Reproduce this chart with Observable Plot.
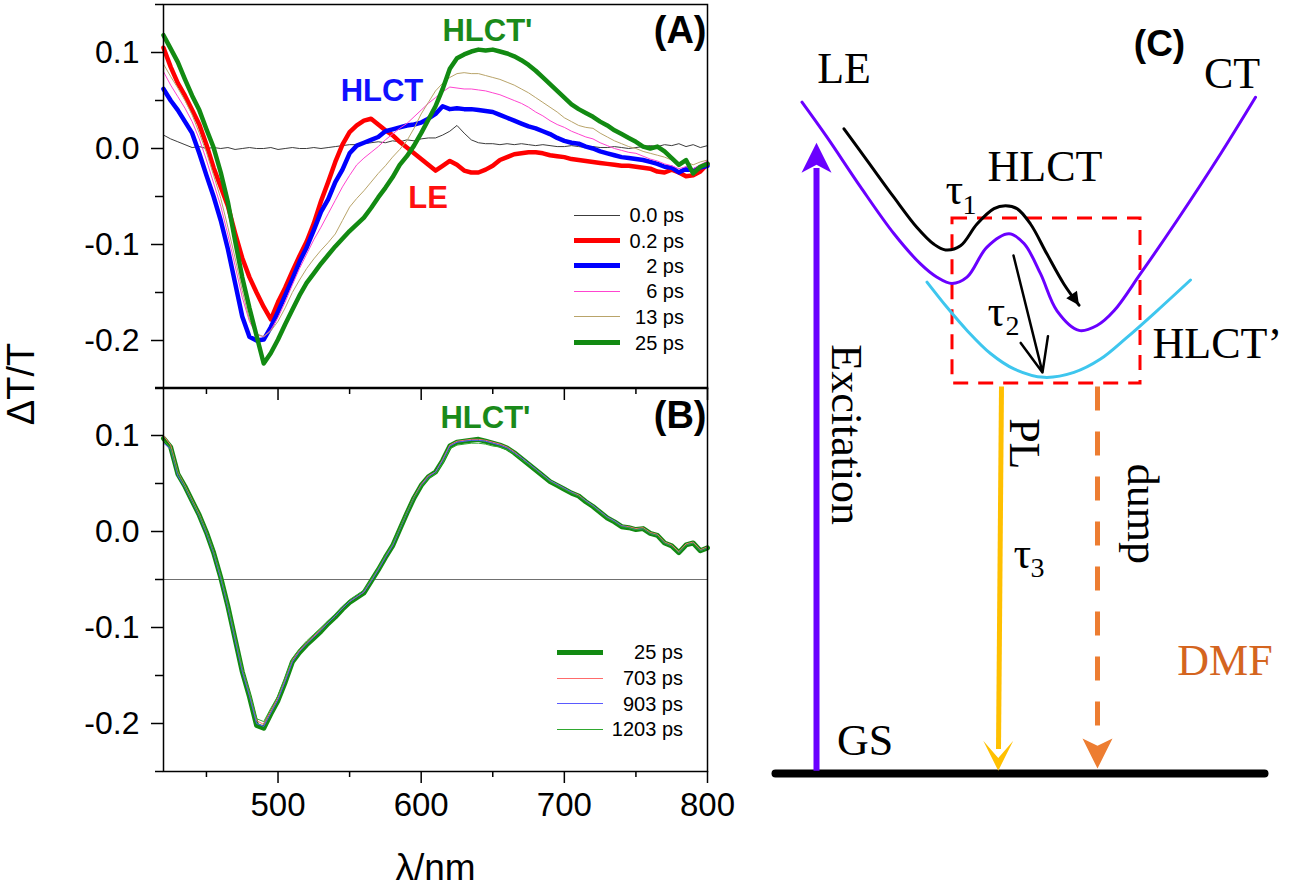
<!DOCTYPE html>
<html><head><meta charset="utf-8">
<script src="https://cdn.jsdelivr.net/npm/d3@7"></script>
<script src="https://cdn.jsdelivr.net/npm/@observablehq/plot@0.6"></script>
<style>
html,body{margin:0;padding:0;background:#fff;}
#root{position:relative;width:1305px;height:888px;overflow:hidden;background:#fff;font-family:"Liberation Sans",Arial,sans-serif;}
#root svg{position:absolute;}
.row{position:absolute;height:20px;}
.row .ln{position:absolute;left:0;width:46px;}
.row .tx{position:absolute;right:0;top:0;line-height:20px;font-size:20px;white-space:pre;color:#000;}
</style></head><body><div id="root"></div>
<script>
const SANS = '"Liberation Sans", Arial, Helvetica, sans-serif';
const SERIF = '"Liberation Serif", "Times New Roman", Times, serif';

// ---------- data: wavelength grid (nm) ----------
const wavelength = [420,425,430,435,440,445,450,455,460,465,
470,475,480,485,490,495,500,505,510,515,
520,525,530,535,540,545,550,555,560,565,
570,575,580,585,590,595,600,605,610,615,
620,625,630,635,640,645,650,655,660,665,
670,675,680,685,690,695,700,705,710,715,
720,725,730,735,740,745,750,755,760,765,
770,775,780,785,790,795,800];

// ---------- panel A spectra (ΔT/T) ----------
const A_0ps = [0.014,0.010,0.007,0.004,0.001,0.002,0.000,0.001,0.000,0.001,
-0.001,0.000,0.001,0.000,0.000,0.001,-0.001,0.000,0.001,0.000,
0.000,0.001,0.000,0.001,0.002,0.003,0.004,0.004,0.005,0.006,
0.007,0.006,0.008,0.007,0.009,0.008,0.010,0.011,0.011,0.014,
0.018,0.024,0.016,0.009,0.006,0.005,0.005,0.004,0.005,0.004,
0.005,0.004,0.003,0.004,0.003,0.002,0.002,0.003,0.002,0.001,
0.002,0.001,0.001,0.002,0.001,0.000,0.001,0.002,0.003,0.002,
0.004,0.003,0.005,0.002,0.004,0.001,0.003];
const A_02ps = [0.105,0.085,0.068,0.055,0.040,0.025,0.004,-0.020,-0.040,-0.060,
-0.088,-0.114,-0.134,-0.150,-0.165,-0.178,-0.160,-0.145,-0.128,-0.112,
-0.097,-0.078,-0.055,-0.035,-0.014,0.004,0.017,0.024,0.029,0.031,
0.025,0.019,0.014,0.007,0.001,-0.005,-0.011,-0.017,-0.023,-0.018,
-0.013,-0.017,-0.023,-0.025,-0.025,-0.022,-0.018,-0.012,-0.009,-0.006,
-0.005,-0.004,-0.004,-0.005,-0.007,-0.008,-0.009,-0.011,-0.012,-0.013,
-0.014,-0.015,-0.016,-0.017,-0.018,-0.018,-0.019,-0.020,-0.021,-0.024,
-0.025,-0.022,-0.025,-0.029,-0.028,-0.024,-0.016];
const A_2ps = [0.062,0.050,0.040,0.028,0.016,-0.005,-0.028,-0.050,-0.075,-0.105,
-0.140,-0.175,-0.196,-0.200,-0.199,-0.186,-0.170,-0.153,-0.136,-0.118,
-0.103,-0.085,-0.066,-0.053,-0.035,-0.022,-0.005,0.003,0.006,0.009,
0.012,0.018,0.020,0.022,0.024,0.025,0.027,0.031,0.036,0.044,
0.041,0.042,0.041,0.041,0.040,0.039,0.038,0.035,0.032,0.029,
0.026,0.023,0.021,0.018,0.015,0.011,0.008,0.006,0.005,0.002,
0.000,-0.003,-0.005,-0.007,-0.009,-0.010,-0.011,-0.012,-0.014,-0.016,
-0.019,-0.020,-0.025,-0.021,-0.023,-0.020,-0.018];
const A_6ps = [0.080,0.066,0.054,0.042,0.028,0.010,-0.012,-0.036,-0.060,-0.090,
-0.122,-0.155,-0.180,-0.194,-0.196,-0.189,-0.176,-0.160,-0.142,-0.125,
-0.110,-0.095,-0.082,-0.068,-0.054,-0.040,-0.028,-0.017,-0.010,-0.004,
0.002,0.009,0.015,0.021,0.026,0.033,0.040,0.047,0.053,0.059,
0.064,0.063,0.062,0.062,0.061,0.060,0.058,0.056,0.053,0.050,
0.047,0.043,0.038,0.034,0.029,0.025,0.022,0.018,0.015,0.012,
0.010,0.006,0.003,0.000,-0.002,-0.004,-0.005,-0.008,-0.011,-0.013,
-0.016,-0.018,-0.021,-0.019,-0.021,-0.017,-0.013];
const A_13ps = [0.088,0.075,0.063,0.050,0.035,0.016,-0.004,-0.028,-0.052,-0.082,
-0.114,-0.148,-0.178,-0.193,-0.196,-0.190,-0.180,-0.166,-0.150,-0.137,
-0.125,-0.115,-0.106,-0.098,-0.089,-0.075,-0.061,-0.052,-0.044,-0.035,
-0.026,-0.018,-0.009,-0.001,0.008,0.021,0.036,0.048,0.060,0.068,
0.074,0.078,0.079,0.078,0.078,0.076,0.074,0.072,0.069,0.066,
0.062,0.058,0.053,0.048,0.043,0.038,0.032,0.028,0.024,0.022,
0.021,0.016,0.012,0.008,0.005,0.002,0.000,-0.003,-0.005,-0.007,
-0.009,-0.012,-0.016,-0.014,-0.017,-0.014,-0.012];
const A_25ps = [0.118,0.104,0.090,0.072,0.055,0.040,0.020,0.001,-0.025,-0.056,
-0.096,-0.134,-0.166,-0.195,-0.224,-0.213,-0.199,-0.183,-0.168,-0.153,
-0.140,-0.130,-0.120,-0.111,-0.102,-0.094,-0.086,-0.079,-0.072,-0.062,
-0.051,-0.041,-0.030,-0.017,-0.008,0.003,0.016,0.030,0.044,0.062,
0.083,0.094,0.098,0.101,0.103,0.102,0.103,0.101,0.099,0.096,
0.092,0.087,0.081,0.074,0.067,0.060,0.053,0.046,0.041,0.037,
0.033,0.028,0.024,0.019,0.015,0.011,0.007,0.002,0.000,0.002,
-0.003,-0.010,-0.017,-0.012,-0.026,-0.019,-0.016];

// ---------- panel B spectra ----------
const B_25ps = [0.097,0.088,0.060,0.047,0.032,0.017,-0.001,-0.022,-0.048,-0.078,
-0.112,-0.146,-0.172,-0.202,-0.205,-0.190,-0.176,-0.157,-0.136,-0.126,
-0.118,-0.111,-0.104,-0.096,-0.089,-0.081,-0.074,-0.069,-0.064,-0.052,
-0.040,-0.027,-0.015,0.002,0.019,0.035,0.048,0.057,0.062,0.074,
0.089,0.093,0.094,0.095,0.096,0.094,0.092,0.090,0.087,0.082,
0.076,0.070,0.064,0.058,0.052,0.048,0.044,0.040,0.037,0.031,
0.026,0.020,0.014,0.010,0.005,0.004,0.002,0.003,-0.002,-0.004,
-0.012,-0.015,-0.022,-0.014,-0.012,-0.020,-0.017];
const B_703ps = [0.100,0.090,0.062,0.048,0.033,0.018,0.000,-0.021,-0.047,-0.077,
-0.110,-0.143,-0.168,-0.197,-0.201,-0.187,-0.173,-0.154,-0.134,-0.124,
-0.116,-0.109,-0.102,-0.095,-0.088,-0.080,-0.073,-0.068,-0.063,-0.051,
-0.039,-0.026,-0.014,0.003,0.020,0.036,0.049,0.058,0.062,0.075,
0.090,0.094,0.095,0.096,0.096,0.095,0.093,0.091,0.088,0.083,
0.077,0.071,0.065,0.059,0.053,0.049,0.045,0.041,0.038,0.032,
0.027,0.021,0.015,0.011,0.006,0.005,0.003,0.004,-0.001,-0.003,
-0.011,-0.014,-0.021,-0.013,-0.011,-0.019,-0.016];
const B_903ps = [0.092,0.086,0.058,0.046,0.031,0.016,-0.002,-0.023,-0.049,-0.079,
-0.113,-0.146,-0.171,-0.200,-0.203,-0.189,-0.175,-0.156,-0.136,-0.125,
-0.117,-0.110,-0.103,-0.095,-0.088,-0.080,-0.073,-0.068,-0.063,-0.052,
-0.040,-0.027,-0.015,0.002,0.019,0.035,0.048,0.057,0.062,0.074,
0.089,0.093,0.094,0.095,0.095,0.094,0.092,0.090,0.087,0.082,
0.077,0.071,0.065,0.059,0.053,0.049,0.045,0.041,0.037,0.032,
0.027,0.021,0.015,0.011,0.006,0.004,0.002,0.003,-0.002,-0.004,
-0.012,-0.015,-0.022,-0.014,-0.012,-0.020,-0.017];
const B_1203ps = [0.095,0.087,0.061,0.047,0.032,0.017,0.000,-0.021,-0.046,-0.076,
-0.109,-0.142,-0.167,-0.195,-0.198,-0.184,-0.171,-0.152,-0.132,-0.122,
-0.114,-0.107,-0.100,-0.093,-0.086,-0.078,-0.071,-0.066,-0.061,-0.050,
-0.038,-0.025,-0.013,0.003,0.020,0.035,0.047,0.055,0.060,0.071,
0.086,0.090,0.091,0.092,0.092,0.091,0.089,0.088,0.085,0.081,
0.075,0.070,0.064,0.058,0.052,0.048,0.044,0.040,0.037,0.031,
0.026,0.020,0.014,0.010,0.005,0.004,0.002,0.003,-0.002,-0.004,
-0.012,-0.015,-0.022,-0.014,-0.012,-0.020,-0.017];

// ---------- labels / ticks ----------
const legendA = ["0.0 ps","0.2 ps","2 ps","6 ps","13 ps","25 ps"];
const legendB = ["25 ps","703 ps","903 ps","1203 ps"];
const yMajor = [-0.2,-0.1,0.0,0.1];
const yMinor = [-0.25,-0.15,-0.05,0.05,0.15];
const xMajor = [500,600,700,800];
const xMinor = [450,550,650,750];
const annoA = ["HLCT'","HLCT","LE"];
const annoA_lam = [646.3, 572.6, 604.8];
const annoA_val = [0.1125, 0.050, -0.0615];
const annoB = ["HLCT'"];
const annoB_lam = [644.9];
const annoB_val = [0.1083];
const baselineB = [-0.05];

// ---------- panel C schematic (configuration coordinate q, energy e) ----------
const surfLE_CT_q = [8.3,13.3,20,26.7,32,35.3,38.3,41.3,45.3,49.7,52.7,56,59.3,63.7,67.3,70.7,76,83.3,92,99];
const surfLE_CT_e = [95.9,90.9,83.8,77.1,72.8,70.9,70.0,70.9,75.2,77.1,75.7,71.4,66.1,63.3,64.0,66.1,71.4,79.0,88.5,96.6];
const pathTau1_q = [16.7,21.3,26.7,31.3,34.7,37,40,43.3,46.7,49,51.3,54,57.3,60.7,63.7];
const pathTau1_e = [92.1,87.6,82.3,78.0,75.6,74.8,75.4,78.5,80.7,81.1,80.7,78.5,74.2,69.9,66.9];
const surfHLCTp_q = [33.3,37.3,41.3,46,50.7,56.7,62.7,68,73.3,79.3,86];
const surfHLCTp_e = [70.2,66.6,63.3,60.0,57.8,56.6,57.3,59.2,62.3,66.1,70.5];
const boxQ = [38.4, 76];
const boxE = [55.7, 79.3];
const groundQ = [3, 100.8];
const groundE = [0, 0];
const excitation = {q1: 11.2, e1: 0.4, q2: 11.2, e2: 86.5, tipQ: 11.2, tipE: 90.1};
const plArrow = {q1: 48.2, e1: 55.3, q2: 47.6, e2: 3.5, tipQ: 47.55, tipE: 0.4};
const dumpArrow = {q1: 67.4, e1: 55.3, q2: 67.4, e2: 6.7, tipQ: 67.4, tipE: 0.7};
const tau2Arrow = {q1: 50.6, e1: 74, q2: 56.4, e2: 57.3};
const serifLabels = ["LE","CT","HLCT","GS"];
const serifLabels_q = [16.7, 94.3, 56.9, 20.9];
const serifLabels_e = [98.6, 97.9, 84.7, 2.6];
const tauLabels = ["τ","τ","τ"];
const tau_q = [37, 45.4, 50.6];
const tau_e = [81.4, 64, 29.3];
const tauSubs = ["1","2","3"];
const tauSub_q = [40.4, 49, 54];
const tauSub_e = [80, 62.6, 28];
const rotLabels = ["Excitation","PL","dump"];
const rot_q = [17.2, 52.8, 76.3];
const rot_e = [48.4, 47.1, 37.1];

// ---------- helpers ----------
const rowsOf = vals => vals.map((v, i) => ({lam: wavelength[i], v}));
const ptsOf = (qs, es) => qs.map((q, i) => ({q, e: es[i]}));
const textRows = (labels, xs, ys) => labels.map((t, i) => ({t, x: xs[i], y: ys[i]}));

const styleA = [
  {vals: A_0ps, color: "#3c3c3c", w: 1},
  {vals: A_02ps, color: "#ff0000", w: 4.5},
  {vals: A_2ps, color: "#0000ff", w: 4.5},
  {vals: A_6ps, color: "#ff44d0", w: 1},
  {vals: A_13ps, color: "#b9a46a", w: 1},
  {vals: A_25ps, color: "#128a12", w: 4.5}
];
const styleB = [
  {vals: B_25ps, color: "#128a12", w: 5},
  {vals: B_703ps, color: "#ff6b6b", w: 1},
  {vals: B_903ps, color: "#5a5aff", w: 1},
  {vals: B_1203ps, color: "#2fa82f", w: 1}
];

const common = {
  width: 720, height: 888, marginLeft: 163, marginRight: 13,
  x: {domain: [420, 800], label: null},
  y: {domain: [-0.25, 0.15], label: null},
  style: {background: "transparent", overflow: "visible", fontFamily: SANS, color: "#000"}
};
const axisMarks = (labels) => [
  Plot.frame({stroke: "#000", strokeWidth: 1.5}),
  Plot.axisY(yMajor, {tickSize: 12, tickPadding: 12, fontSize: 32, tickFormat: d => d.toFixed(1), strokeWidth: 1.5, label: null}),
  Plot.axisY(yMinor, {tickSize: 8, fill: "none", strokeWidth: 1.5, label: null}),
  labels
    ? Plot.axisX(xMajor, {tickSize: 12, tickPadding: 9, fontSize: 33, tickFormat: d => String(d), strokeWidth: 1.5, label: null})
    : Plot.axisX(xMajor, {tickSize: 12, fill: "none", strokeWidth: 1.5, label: null}),
  Plot.axisX(xMinor, {tickSize: 6, fill: "none", strokeWidth: 1.5, label: null})
];
const boldText = (rows, color, size) => Plot.text(rows, {x: "x", y: "y", text: "t", fill: color, fontSize: size, fontWeight: "bold", fontFamily: SANS, textAnchor: "middle", lineAnchor: "bottom"});

const plotA = Plot.plot({
  ...common, marginTop: 4, marginBottom: 500,
  marks: [
    ...styleA.map(s => Plot.line(rowsOf(s.vals), {x: "lam", y: "v", stroke: s.color, strokeWidth: s.w})),
    ...axisMarks(false),
    boldText(textRows([annoA[0]], [annoA_lam[0]], [annoA_val[0]]), "#1a8a1a", 31),
    boldText(textRows([annoA[1]], [annoA_lam[1]], [annoA_val[1]]), "#1010ff", 31),
    boldText(textRows([annoA[2]], [annoA_lam[2]], [annoA_val[2]]), "#ff1010", 31),
    Plot.text(["(A)"], {frameAnchor: "top-right", dx: -1, dy: 38, textAnchor: "end", lineAnchor: "bottom", fontSize: 38, fontWeight: "bold", fontFamily: SANS, fill: "#000"})
  ]
});

const plotB = Plot.plot({
  ...common, marginTop: 387, marginBottom: 117,
  marks: [
    Plot.ruleY(baselineB, {stroke: "#707070", strokeWidth: 1.2}),
    ...styleB.map(s => Plot.line(rowsOf(s.vals), {x: "lam", y: "v", stroke: s.color, strokeWidth: s.w})),
    ...axisMarks(true),
    boldText(textRows(annoB, annoB_lam, annoB_val), "#1a8a1a", 31),
    Plot.text(["(B)"], {frameAnchor: "top-right", dx: -1, dy: 40, textAnchor: "end", lineAnchor: "bottom", fontSize: 38, fontWeight: "bold", fontFamily: SANS, fill: "#000"}),
    Plot.text(["λ/nm"], {frameAnchor: "bottom", dy: 108, lineAnchor: "bottom", fontSize: 37, fontFamily: SANS, fill: "#000"}),
    Plot.text(["ΔT/T"], {frameAnchor: "top-left", dx: -142, dy: -3.5, rotate: -90, textAnchor: "middle", lineAnchor: "middle", fontSize: 38, fontFamily: SANS, fill: "#000"})
  ]
});

// arrowhead symbols (tip at origin, pointing along angle; 0 = down)
function headSymbol(halfWidth, notch, angleDeg) {
  const a = angleDeg * Math.PI / 180, c = Math.cos(a), s = Math.sin(a);
  const rot = ([x, y]) => [x * c - y * s, x * s + y * c];
  return {draw(ctx, size) {
    const L = Math.sqrt(size / Math.PI);
    const p = [[0, 0], [-halfWidth * L, -L], [0, -notch * L], [halfWidth * L, -L]].map(rot);
    ctx.moveTo(p[0][0], p[0][1]);
    for (let i = 1; i < p.length; i++) ctx.lineTo(p[i][0], p[i][1]);
    ctx.closePath();
  }};
}
const head = (a, r, sym, color) => Plot.dot([{q: a.tipQ, e: a.tipE}], {x: "q", y: "e", r, symbol: sym, fill: color, stroke: "none"});

const PURPLE = "#6a00ff", CYAN = "#3ec6ee", YELLOW = "#ffc000", ORANGE = "#ed7d31";
const plotC = Plot.plot({
  width: 545, height: 888, margin: 0,
  x: {domain: [0, 109]}, y: {domain: [-16.43, 110.43]},
  axis: null,
  style: {background: "transparent", overflow: "visible"},
  marks: [
    Plot.line(ptsOf(groundQ, groundE), {x: "q", y: "e", stroke: "#000", strokeWidth: 8}),
    Plot.rect([{q1: boxQ[0], q2: boxQ[1], e1: boxE[0], e2: boxE[1]}], {x1: "q1", x2: "q2", y1: "e1", y2: "e2", fill: "none", stroke: "#ff0000", strokeWidth: 3, strokeDasharray: "15,10"}),
    Plot.line(ptsOf(surfLE_CT_q, surfLE_CT_e), {x: "q", y: "e", curve: "catmull-rom", stroke: PURPLE, strokeWidth: 3}),
    Plot.line(ptsOf(surfHLCTp_q, surfHLCTp_e), {x: "q", y: "e", curve: "catmull-rom", stroke: CYAN, strokeWidth: 3}),
    Plot.line(ptsOf(pathTau1_q, pathTau1_e), {x: "q", y: "e", curve: "catmull-rom", stroke: "#000", strokeWidth: 3}),
    head({tipQ: pathTau1_q[pathTau1_q.length - 1], tipE: pathTau1_e[pathTau1_e.length - 1]}, 13, headSymbol(0.5, 1, -34.6), "#000"),
    Plot.arrow([tau2Arrow], {x1: "q1", y1: "e1", x2: "q2", y2: "e2", stroke: "#000", strokeWidth: 2.5, headLength: 22, headAngle: 45}),
    Plot.link([excitation], {x1: "q1", y1: "e1", x2: "q2", y2: "e2", stroke: PURPLE, strokeWidth: 6}),
    head(excitation, 30, headSymbol(0.5, 0.73, 180), PURPLE),
    Plot.link([plArrow], {x1: "q1", y1: "e1", x2: "q2", y2: "e2", stroke: YELLOW, strokeWidth: 5}),
    head(plArrow, 30, headSymbol(0.5, 0.42, 0), YELLOW),
    Plot.link([dumpArrow], {x1: "q1", y1: "e1", x2: "q2", y2: "e2", stroke: ORANGE, strokeWidth: 5, strokeDasharray: "24,21"}),
    head(dumpArrow, 30, headSymbol(0.5, 0.76, 0), ORANGE),
    Plot.text(textRows(serifLabels, serifLabels_q, serifLabels_e), {x: "x", y: "y", text: "t", fontFamily: SERIF, fontSize: 44, textAnchor: "middle", lineAnchor: "bottom", fill: "#000"}),
    Plot.text(textRows(["HLCT’"], [78.4], [59.3]), {x: "x", y: "y", text: "t", fontFamily: SERIF, fontSize: 44, textAnchor: "start", lineAnchor: "bottom", fill: "#000"}),
    Plot.text(textRows(["DMF"], [92.9], [14]), {x: "x", y: "y", text: "t", fontFamily: SERIF, fontSize: 44, textAnchor: "middle", lineAnchor: "bottom", fill: "#d4651f"}),
    Plot.text(textRows(tauLabels, tau_q, tau_e), {x: "x", y: "y", text: "t", fontFamily: SERIF, fontSize: 44, textAnchor: "start", lineAnchor: "bottom", fill: "#000"}),
    Plot.text(textRows(tauSubs, tauSub_q, tauSub_e), {x: "x", y: "y", text: "t", fontFamily: SERIF, fontSize: 28, textAnchor: "start", lineAnchor: "bottom", fill: "#000"}),
    Plot.text(textRows(rotLabels, rot_q, rot_e), {x: "x", y: "y", text: "t", fontFamily: SERIF, fontSize: 44, rotate: 90, textAnchor: "middle", lineAnchor: "middle", fill: "#000"}),
    Plot.text(textRows(["(C)"], [79.8], [102.5]), {x: "x", y: "y", text: "t", fontFamily: SANS, fontWeight: "bold", fontSize: 37, textAnchor: "middle", lineAnchor: "bottom", fill: "#000"})
  ]
});

const root = document.getElementById("root");
for (const [svg, left, top] of [[plotA, 0, 0], [plotB, 0, 0], [plotC, 760, 0]]) {
  svg.style.left = left + "px"; svg.style.top = top + "px";
  root.appendChild(svg);
}

// legends (HTML)
function addLegend(labels, styles, {left, width, rows, lineW}) {
  labels.forEach((lab, i) => {
    const row = document.createElement("div");
    row.className = "row";
    row.style.left = left + "px"; row.style.top = (rows[i] - 10) + "px"; row.style.width = width + "px";
    const ln = document.createElement("div");
    ln.className = "ln";
    ln.style.width = lineW + "px";
    ln.style.height = styles[i].w + "px";
    ln.style.top = (10 - styles[i].w / 2) + "px";
    ln.style.background = styles[i].color;
    const tx = document.createElement("span");
    tx.className = "tx"; tx.textContent = lab;
    row.appendChild(ln); row.appendChild(tx);
    root.appendChild(row);
  });
}
addLegend(legendA, styleA, {left: 574, width: 110, rows: [215, 240.5, 265.5, 291, 316.5, 342.5], lineW: 46});
addLegend(legendB, styleB, {left: 557, width: 126, rows: [652, 678, 703.5, 729], lineW: 46});
</script></body></html>
